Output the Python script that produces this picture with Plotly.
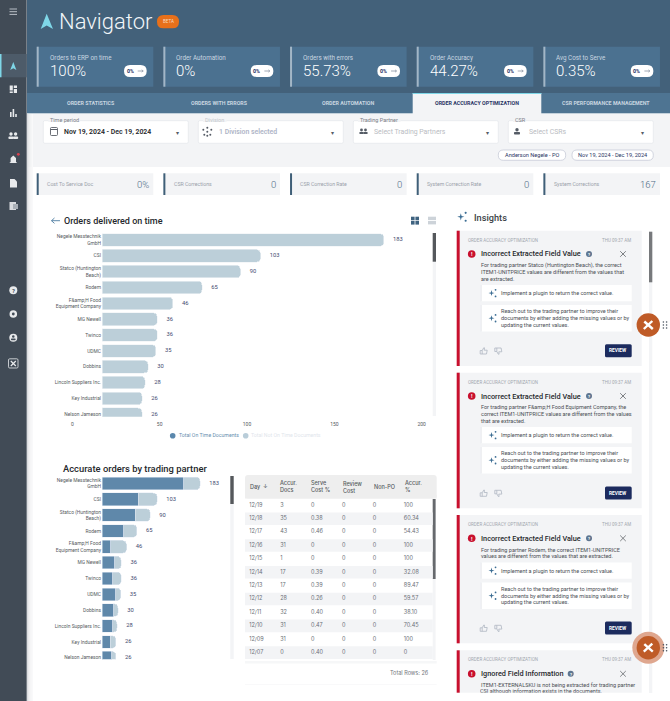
import plotly.graph_objects as go

W, H = 670, 701
FONT = "Roboto"

# chart values
partners = ["Negele Messtechnik<br>GmbH", "CSI", "Statco (Huntington<br>Beach)", "Rodem",
            "F&amp;amp;H Food<br>Equipment Company", "MG Newell", "Twinco", "UDMC", "Dobbins",
            "Lincoln Suppliers Inc.", "Key Industrial", "Nelson Jameson"]
total_docs = [183, 103, 90, 65, 46, 36, 36, 35, 30, 28, 26, 26]
accurate_docs = [153, 68, 62, 41, 16, 24, 20, 26, 22, 20, 15, 18]
inaccurate_docs = [30, 35, 28, 24, 30, 12, 16, 9, 8, 8, 11, 8]
x_ticks = [0, 50, 100, 150, 200]

days = ["12/19", "12/18", "12/17", "12/16", "12/15", "12/14", "12/13", "12/12", "12/11", "12/10", "12/09", "12/07"]
accur_docs = ["3", "35", "43", "31", "1", "17", "17", "28", "32", "31", "31", "0"]
serve_cost = ["0", "0.38", "0.46", "0", "0", "0.39", "0.39", "0.26", "0.40", "0.47", "0", "0.40"]
review_cost = ["0"] * 12
non_po = ["0"] * 12
accur_pct = ["100", "60.34", "54.43", "100", "100", "32.08", "89.47", "59.57", "38.10", "70.45", "100", "0"]
table_columns = [days, accur_docs, serve_cost, review_cost, non_po, accur_pct]
table_headers = ["Day  ↓", "Accur.<br>Docs", "Serve<br>Cost %", "Review<br>Cost", "Non-PO", "Accur.<br>%"]

kpi_cards = [("Orders to ERP on time", "100%"), ("Order Automation", "0%"), ("Orders with errors", "55.73%"),
             ("Order Accuracy", "44.27%"), ("Avg Cost to Serve", "0.35%")]
kpi_strip = [("Cost To Service Doc", "0%"), ("CSR Corrections", "0"), ("CSR Correction Rate", "0"),
             ("System Correction Rate", "0"), ("System Corrections", "167")]
tabs = [("ORDER STATISTICS", 91), ("ORDERS WITH ERRORS", 219), ("ORDER AUTOMATION", 348),
        ("ORDER ACCURACY OPTIMIZATION", 476.7), ("CSR PERFORMANCE MANAGEMENT", 605.7)]

shapes = []
notes = []


def fx(x):
    return x / W


def fy(y):
    return 1 - y / H


def rect(x0, y0, x1, y1, fill, line=None, lw=1):
    shapes.append(dict(type="rect", xref="paper", yref="paper", x0=fx(x0), x1=fx(x1), y0=fy(y1), y1=fy(y0), layer="below",
                       fillcolor=fill, line=dict(color=line, width=lw) if line else dict(width=0)))


def path(points, fill=None, line=None, lw=1, closed=True):
    d = "M " + " L ".join(f"{fx(a):.5f},{fy(b):.5f}" for a, b in points) + (" Z" if closed else "")
    shapes.append(dict(type="path", xref="paper", yref="paper", path=d, fillcolor=fill or "rgba(0,0,0,0)", layer="below",
                       line=dict(color=line, width=lw) if line else dict(width=0)))


def rrect(x0, y0, x1, y1, r, fill, line=None, lw=1):
    X0, X1, Y0, Y1 = fx(x0), fx(x1), fy(y0), fy(y1)
    rx, ry = r / W, r / H
    d = (f"M {X0+rx:.5f},{Y0:.5f} L {X1-rx:.5f},{Y0:.5f} Q {X1:.5f},{Y0:.5f} {X1:.5f},{Y0-ry:.5f} "
         f"L {X1:.5f},{Y1+ry:.5f} Q {X1:.5f},{Y1:.5f} {X1-rx:.5f},{Y1:.5f} "
         f"L {X0+rx:.5f},{Y1:.5f} Q {X0:.5f},{Y1:.5f} {X0:.5f},{Y1+ry:.5f} "
         f"L {X0:.5f},{Y0-ry:.5f} Q {X0:.5f},{Y0:.5f} {X0+rx:.5f},{Y0:.5f} Z")
    shapes.append(dict(type="path", xref="paper", yref="paper", path=d, fillcolor=fill, layer="below",
                       line=dict(color=line, width=lw) if line else dict(width=0)))


def circle(cx, cy, r, fill, line=None, lw=1):
    shapes.append(dict(type="circle", xref="paper", yref="paper", x0=fx(cx - r), x1=fx(cx + r), y0=fy(cy + r), layer="below",
                       y1=fy(cy - r), fillcolor=fill, line=dict(color=line, width=lw) if line else dict(width=0)))


def seg(x0, y0, x1, y1, color, lw=1):
    shapes.append(dict(type="line", xref="paper", yref="paper", x0=fx(x0), x1=fx(x1), y0=fy(y0), y1=fy(y1), layer="below",
                       line=dict(color=color, width=lw)))


def txt(x, y, s, size, color, anchor="left", weight=400, family=FONT):
    notes.append(dict(xref="paper", yref="paper", x=fx(x), y=fy(y), text=s, showarrow=False, xanchor=anchor,
                      yanchor="middle", borderpad=0, align=anchor,
                      font=dict(size=size, color=color, family=family, weight=weight)))


def sparkle(cx, cy, s, color="#3d6e94"):
    a = s * 0.22
    path([(cx, cy - s), (cx + a, cy - a), (cx + s, cy), (cx + a, cy + a), (cx, cy + s), (cx - a, cy + a),
          (cx - s, cy), (cx - a, cy - a)], fill=color)
    circle(cx + s * 1.35, cy - s * 1.1, s * 0.3, color)
    circle(cx + s * 1.35, cy + s * 1.1, s * 0.3, color)


def thumb(cx, cy, down=False):
    k = -1 if down else 1
    pts = [(cx - 3.5, cy + k * 3), (cx - 3.5, cy - k * 0.5), (cx - 1.5, cy - k * 0.5), (cx, cy - k * 3.2),
           (cx + 0.8, cy - k * 3.2), (cx + 0.5, cy - k * 0.8), (cx + 3.5, cy - k * 0.8), (cx + 2.8, cy + k * 3)]
    path(pts, line="#aeb6c2", lw=0.8)
    seg(cx - 1.5, cy - k * 0.5, cx - 1.5, cy + k * 3, "#aeb6c2", 0.8)


def grip(cx, cy):
    for dx in (-1.6, 1.6):
        for dy in (-3, 0, 3):
            circle(cx + dx, cy + dy, 0.8, "#4a5560")


def tool_button(cx, cy, halo=False):
    if halo:
        circle(cx, cy, 16, "#dfa78f")
    circle(cx, cy, 11.7, "#bf5b27")
    seg(cx - 4.5, cy + 4, cx + 4, cy - 4, "#ffffff", 2.4)
    seg(cx - 4, cy - 3.5, cx + 4.5, cy + 4, "#ffffff", 2.4)
    grip(cx + 16.7, cy)


# page backgrounds
rect(27, 0, W, 93, "#43617a")
rect(27, 93, W, 113, "#4e7492")
rect(27, 113, W, 167, "#f3f4f6")
rect(27, 167, W, H, "#ffffff")
for i, c in enumerate(["#dcdee1", "#e6e8ea", "#eeeff1", "#f4f5f6", "#f9f9fa"]):
    rect(27 + i * 1.2, 113, 28.2 + i * 1.2, H, c)

# sidebar
rect(0, 0, 26.7, H, "#414b56")
rect(0, 54, 26.7, 77.3, "#4d5b69")
rect(0, 54, 1.5, 77.3, "#7fd7e8")
for y in (9, 11.7, 14.4):
    seg(9.5, y, 17, y, "#b9bfc6", 1)
path([(13.3, 62), (16.4, 70), (13.3, 68.2), (10.2, 70)], fill="#7fd7e8")
for x0, y0, x1, y1 in [(9.7, 85.5, 12.8, 90.5), (13.8, 85.5, 17, 88), (9.7, 91.4, 12.8, 93), (13.8, 89, 17, 93)]:
    rect(x0, y0, x1, y1, "#e8eaec")
for x0, y0 in [(10, 112), (12.6, 109), (15.2, 114)]:
    rect(x0, y0, x0 + 1.6, 117, "#e8eaec")
for cx in (11, 15.6):
    circle(cx, 134, 1.7, "#e8eaec")
    rrect(cx - 2.6, 136.4, cx + 2.6, 139, 1, "#e8eaec")
path([(13.3, 155.5), (16, 158), (16, 162), (17.3, 163), (9.3, 163), (10.6, 162), (10.6, 158)], fill="#e8eaec")
circle(18.3, 154.3, 1.4, "#d9404f")
path([(10, 179), (14.5, 179), (17, 181.5), (17, 187.5), (10, 187.5)], fill="#e8eaec")
rect(9.5, 202, 16, 210, "#d9dbde")
rect(13, 204, 18, 209, "#a9afb6")
circle(13.3, 290.3, 4, "#e8eaec")
txt(13.3, 290.5, "?", 6, "#414b56", "center", 700)
circle(13.3, 314, 3.8, "#e8eaec")
circle(13.3, 314, 1.4, "#414b56")
circle(13.3, 337.7, 4, "#e8eaec")
circle(13.3, 336.5, 1.3, "#414b56")
rrect(11, 338.5, 15.6, 340.2, 0.6, "#414b56")
rrect(8.5, 358.8, 18, 368, 1.2, "#414b56", "#d5d8db", 0.9)
seg(10.8, 361, 15.8, 366, "#e8eaec", 1.2)
seg(15.8, 361, 10.8, 366, "#e8eaec", 1.2)

# title row
path([(46.7, 13.7), (53, 29), (46.7, 25.5), (40.7, 29)], fill="#7fd7e8")
txt(58, 22, "Navigator", 22, "#f2f6f9", weight=300)
rrect(157, 15, 179, 28.3, 6.6, "#e8701a")
txt(168, 21.8, "BETA", 4.5, "#f8dcc0", "center")

# KPI cards on the header
for i, (label, value) in enumerate(kpi_cards):
    x = 36.7 + i * 126.67
    rect(x, 46.7, x + 116.6, 86.7, "#4b7190")
    rect(x, 46.7, x + 2, 86.7, "#a3b6c6")
    txt(x + 12, 57.8, label, 6.3, "#c9d6e0")
    txt(x + 12, 71.2, value, 15, "#ffffff", weight=300)
    rrect(x + 87.3, 65, x + 110, 77, 6, "#ffffff")
    txt(x + 93.6, 71.1, "0%", 5.3, "#2a3564", "center", 700)
    seg(x + 101, 71, x + 106.5, 71, "#8b95a3", 0.8)
    path([(x + 105, 69.8), (x + 106.5, 71), (x + 105, 72.2)], line="#8b95a3", lw=0.7, closed=False)

# tabs
rect(412.7, 93, 541.3, 114, "#f3f4f6")
rect(412.7, 93, 541.3, 94, "#7fd7e8")
rect(27, 113, 412.7, 114, "#c3d1db")
rect(541.3, 113, W, 114, "#c3d1db")
for label, cx in tabs:
    active = label.startswith("ORDER ACCURACY")
    txt(cx, 103.4, label, 5.3, "#2a3564" if active else "#c9d6e0", "center", 700)

# filters
filter_boxes = [(43.3, 188.3, "Time period", 49.3), (198.3, 343.3, "Division", 204), (353.3, 498.3, "Trading Partner", 359), (508.3, 653.3, "CSR", 514)]
for x0, x1, label, lx in filter_boxes:
    rrect(x0, 120.7, x1, 143.3, 1.5, "#ffffff", "#e6e8ec", 0.8)
    rect(lx - 1, 118, lx + len(label) * 2.7 + 1, 122, "#f3f4f6")
    txt(lx, 120, label, 5.5, "#c2c6cc" if label == "Division" else "#7b8087")
    txt(x1 - 10.7, 132, "▾", 6, "#555c66", "center")
txt(62.7, 132, "Nov 19, 2024 - Dec 19, 2024", 6.9, "#26282c", weight=600)
txt(217.7, 132, "1 Division selected", 6.9, "#aeb4c6", weight=600)
txt(372.7, 132, "Select Trading Partners", 6.9, "#b9bcc2")
txt(527.7, 132, "Select CSRs", 6.9, "#b9bcc2")
rrect(50.5, 127.5, 57.5, 135.5, 1, "rgba(0,0,0,0)", "#5a6068", 0.9)
seg(50.5, 129.5, 57.5, 129.5, "#5a6068", 1)
for dx, dy in [(0, 0), (-4, -2), (4, -2), (-3, 3), (3, 3), (0, -4), (0, 4)]:
    circle(207.3 + dx, 131.7 + dy, 1, "#555c66")
for cx in (361.5, 365.5):
    circle(cx, 130, 1.4, "#555c66")
    rrect(cx - 2.2, 132, cx + 2.2, 134, 0.8, "#555c66")
circle(517, 129.8, 1.7, "#555c66")
rrect(514, 132, 520, 134.6, 0.8, "#555c66")
for x0, x1, label in [(498.3, 565.7, "Anderson Negele - PO"), (572, 653.3, "Nov 19, 2024 - Dec 19, 2024")]:
    rrect(x0, 150, x1, 160.3, 5, "#ffffff", "#c8ccd8", 0.8)
    txt((x0 + x1) / 2, 155.2, label, 5.6, "#2a3564", "center")

# KPI strip
for i, (label, value) in enumerate(kpi_strip):
    x = 36.7 + i * 126.67
    rect(x, 173.3, x + 116.6, 195, "#f3f4f6")
    rect(x, 173.3, x + 2, 195, "#3f5f78")
    txt(x + 9.3, 184.4, label, 5.2, "#9aa1aa")
    txt(x + 113.3, 184.2, value, 9.5, "#4b6a85", "right", 300)

# top chart chrome
path([(60, 220.7), (51.5, 220.7)], line="#4f7ea3", lw=0.9, closed=False)
path([(54.5, 218), (51.5, 220.7), (54.5, 223.4)], line="#4f7ea3", lw=0.9, closed=False)
txt(63.3, 220.7, "Orders delivered on time", 9, "#25282c", weight=500)
for x0, y0 in [(411, 216.7), (415.4, 216.7), (411, 221), (415.4, 221)]:
    rect(x0, y0, x0 + 3.6, y0 + 3.6, "#3f6380")
for y0 in (216.7, 221):
    rect(428, y0, 436, y0 + 3.4, "#cdd3d9")
rect(432.7, 233, 436, 416, "#f3f4f6")
rect(432.7, 233, 436, 261.7, "#55585c")
circle(172.7, 435.7, 2.8, "#5b88ad")
txt(177.5, 435.4, "Total On Time Documents", 5.2, "#6a8faf")
circle(245.7, 435.7, 2.8, "#b9cdd9")
txt(250.3, 435.4, "Total Not On Time Documents", 5.2, "#dfe6ec")

# lower chart chrome
txt(62, 468.3, "Accurate orders by trading partner", 9.4, "#25282c", weight=500)
rect(230.3, 476, 233.7, 659, "#f3f4f6")
rect(230.3, 476, 233.7, 504, "#55585c")

# table chrome
rrect(245, 475, 436.7, 498.5, 3, "#eeeeee")
rect(245, 495, 436.7, 498.5, "#eeeeee")
header_x = [249.3, 278.7, 310, 341.7, 373, 404]
for cx, label in zip(header_x, table_headers):
    txt(cx, 486.7, label, 5.5, "#555a60", weight=500, family="Inter")
rect(432.7, 499, 435.6, 660, "#f3f4f6")
rect(432.7, 499, 435.6, 579, "#66696d")
rect(245, 661, 436.7, 663.5, "#f6f7f8")
rect(245, 684, 436.7, 684.6, "#f3f4f6")
txt(430, 672.8, "Total Rows: 26", 5.5, "#72767c", "right", family="Inter")

# insights
sparkle(460.8, 216.8, 3.6)
txt(473.3, 217, "Insights", 9.2, "#3b3f45", weight=500)
rect(649, 231.7, 652.3, 693, "#f3f4f6")
rect(649, 231.7, 652.3, 282.3, "#77797c")

insight_body = [
    ["For trading partner Statco (Huntington Beach), the correct", "ITEM1-UNITPRICE values are different from the values that", "are extracted."],
    ["For trading partner F&amp;amp;H Food Equipment Company, the", "correct ITEM1-UNITPRICE values are different from the values", "that are extracted."],
    ["For trading partner Rodem, the correct ITEM1-UNITPRICE", "values are different from the values that are extracted."],
]
for top, bottom, lines in zip([230.7, 372.7, 515], [366, 508.3, 643.3], insight_body):
    rect(456.7, top, 641.7, bottom, "#f3f4f6")
    rect(456.7, top, 459.7, bottom, "#c8102e")
    txt(466.7, top + 9.4, "ORDER ACCURACY OPTIMIZATION", 4.5, "#a2a7ae")
    txt(631.7, top + 9.4, "THU 09:37 AM", 4.5, "#a2a7ae", "right")
    circle(471.7, top + 23.3, 3.8, "#c8102e")
    txt(471.7, top + 23.5, "!", 5.5, "#ffffff", "center", 700)
    txt(480, top + 23.3, "Incorrect Extracted Field Value", 7.3, "#26282c", weight=500)
    circle(589, top + 23.3, 3, "#5e7590")
    txt(589, top + 23.5, "?", 4.2, "#ffffff", "center", 700)
    seg(620.2, top + 20.5, 625.8, top + 26.1, "#5f6368", 0.8)
    seg(625.8, top + 20.5, 620.2, top + 26.1, "#5f6368", 0.8)
    for j, line in enumerate(lines):
        txt(480, top + 34.6 + j * 6.8, line, 5.5, "#4a4e54")
    b1 = top + 34.6 + len(lines) * 6.8 - 0.8
    rect(480.7, b1, 631.7, b1 + 16.3, "#ffffff")
    rect(480.7, b1, 481.5, b1 + 16.3, "#dfe2e6")
    sparkle(491.5, b1 + 8.2, 3)
    txt(500, b1 + 8.2, "Implement a plugin to return the correct value.", 5.5, "#4a4e54")
    b2 = b1 + 20
    rect(480.7, b2, 631.7, b2 + 26.7, "#ffffff")
    rect(480.7, b2, 481.5, b2 + 26.7, "#dfe2e6")
    sparkle(491.5, b2 + 13.3, 3)
    for j, line in enumerate(["Reach out to the trading partner to improve their", "documents by either adding the missing values or by", "updating the current values."]):
        txt(500, b2 + 6.4 + j * 6.8, line, 5.5, "#4a4e54")
    thumb(483.7, bottom - 15)
    thumb(498.3, bottom - 15, True)
    rrect(605, bottom - 21.7, 631.7, bottom - 8.7, 1.5, "#1c2b5e")
    txt(618.3, bottom - 15.1, "REVIEW", 4.8, "#ffffff", "center", 700)

rect(456.7, 650.3, 641.7, 692.7, "#f3f4f6")
rect(456.7, 650.3, 459.7, 692.7, "#c8102e")
txt(466.7, 659.7, "ORDER ACCURACY OPTIMIZATION", 4.5, "#a2a7ae")
txt(631.7, 659.7, "THU 09:37 AM", 4.5, "#a2a7ae", "right")
circle(471.7, 673.8, 3.8, "#c8102e")
txt(471.7, 674, "!", 5.5, "#ffffff", "center", 700)
txt(480, 673.8, "Ignored Field Information", 7.3, "#26282c", weight=500)
circle(570.7, 673.8, 3, "#5e7590")
txt(570.7, 674, "?", 4.2, "#ffffff", "center", 700)
seg(620.2, 671, 625.8, 676.6, "#5f6368", 0.8)
seg(625.8, 671, 620.2, 676.6, "#5f6368", 0.8)
txt(480, 685.4, "ITEM1-EXTERNALSKU is not being extracted for trading partner", 5.5, "#4a4e54")

tool_button(648.3, 325)
tool_button(648.3, 647.7, True)

# table row bands live on the table's own axes
for i in range(len(days)):
    if i % 2 == 1:
        shapes.append(dict(type="rect", xref="x4 domain", yref="y4", x0=0, x1=1, y0=i - 0.47, y1=i + 0.47,
                           fillcolor="#f3f4f6", line=dict(width=0), layer="below"))

fig = go.Figure()

fig.add_trace(go.Bar(x=total_docs, y=partners, orientation="h", marker=dict(color="#bccfd9", line=dict(color="#eef2f5", width=0.6)),
                     xaxis="x", yaxis="y", hoverinfo="skip", showlegend=False))
fig.add_trace(go.Scatter(x=total_docs, y=partners, mode="markers+text", text=[str(v) for v in total_docs], textposition="middle right",
                         marker=dict(size=13, opacity=0), textfont=dict(size=5.8, color="#3f4a70", family=FONT),
                         xaxis="x", yaxis="y", hoverinfo="skip", showlegend=False))

fig.add_trace(go.Bar(x=accurate_docs, y=partners, orientation="h", marker=dict(color="#5f88aa"),
                     xaxis="x2", yaxis="y2", hoverinfo="skip", showlegend=False))
fig.add_trace(go.Bar(x=inaccurate_docs, y=partners, orientation="h", marker=dict(color="#bccfd9"),
                     xaxis="x2", yaxis="y2", hoverinfo="skip", showlegend=False))
fig.add_trace(go.Scatter(x=total_docs, y=partners, mode="markers+text", text=[str(v) for v in total_docs], textposition="middle right",
                         marker=dict(size=13, opacity=0), textfont=dict(size=5.8, color="#3f4a70", family=FONT),
                         xaxis="x2", yaxis="y2", hoverinfo="skip", showlegend=False))

# the 0-200 labels sit on their own scale in the reference, wider than the bars
fig.add_trace(go.Scatter(x=x_ticks, y=[0] * len(x_ticks), mode="markers", marker=dict(opacity=0),
                         xaxis="x3", yaxis="y3", hoverinfo="skip", showlegend=False))

for col, values in enumerate(table_columns):
    fig.add_trace(go.Scatter(x=[col] * len(values), y=list(range(len(values))), mode="text", text=values,
                             textposition="middle right", textfont=dict(size=5.5, color="#6a6f76", family="Inter"),
                             xaxis="x4", yaxis="y4", hoverinfo="skip", showlegend=False))

# last insight line runs off the bottom of its panel, so it needs a clipping axis
fig.add_trace(go.Scatter(x=[0], y=[0], mode="text", text=["CSI although information exists in the documents."],
                         textposition="middle right", textfont=dict(size=5.5, color="#4a4e54", family=FONT),
                         xaxis="x5", yaxis="y5", hoverinfo="skip", showlegend=False))

cat_axis = dict(type="category", categoryorder="array", categoryarray=partners, showgrid=False, showline=False, zeroline=False,
                ticks="", tickfont=dict(size=4.9, color="#555a60", family=FONT), automargin=False)
hidden = dict(visible=False, showgrid=False, zeroline=False, automargin=False)

fig.update_layout(
    width=W,
    height=H,
    autosize=False,
    margin=dict(l=0, r=0, t=0, b=0, pad=0, autoexpand=False),
    paper_bgcolor="#ffffff",
    plot_bgcolor="rgba(0,0,0,0)",
    barmode="stack",
    bargap=0.2,
    barcornerradius=4,
    font=dict(family=FONT),
    showlegend=False,
    shapes=shapes,
    annotations=notes,
    xaxis=dict(domain=[fx(102), fx(432)], range=[0, 214.3], anchor="y", **hidden),
    yaxis=dict(domain=[fy(416.7), fy(232)], range=[11.15, -0.5], anchor="x", **cat_axis),
    xaxis2=dict(domain=[fx(102), fx(230)], range=[0, 239], anchor="y2", **hidden),
    yaxis2=dict(domain=[fy(659.3), fy(475.5)], range=[11.1, -0.5], anchor="x2", **cat_axis),
    xaxis3=dict(domain=[fx(72.3), fx(421.7)], range=[0, 200], anchor="y3", tickvals=x_ticks, showgrid=False, zeroline=False,
                showline=False, ticks="", automargin=False, tickfont=dict(size=5, color="#555a60", family=FONT)),
    yaxis3=dict(domain=[fy(420), fy(417)], range=[-1, 1], anchor="x3", **hidden),
    xaxis4=dict(domain=[fx(245), fx(432.7)], range=[-0.139, 5.937], anchor="y4", **hidden),
    yaxis4=dict(domain=[fy(660), fy(499)], range=[11.55, -0.47], anchor="x4", **hidden),
    xaxis5=dict(domain=[fx(480), fx(640)], range=[0, 1], anchor="y5", **hidden),
    yaxis5=dict(domain=[fy(692.7), fy(686)], range=[-0.7, 6], anchor="x5", **hidden),
)

fig.write_html("out.html", config={"displayModeBar": False},
               post_script="document.body.style.margin='0';document.body.style.overflow='hidden';")
